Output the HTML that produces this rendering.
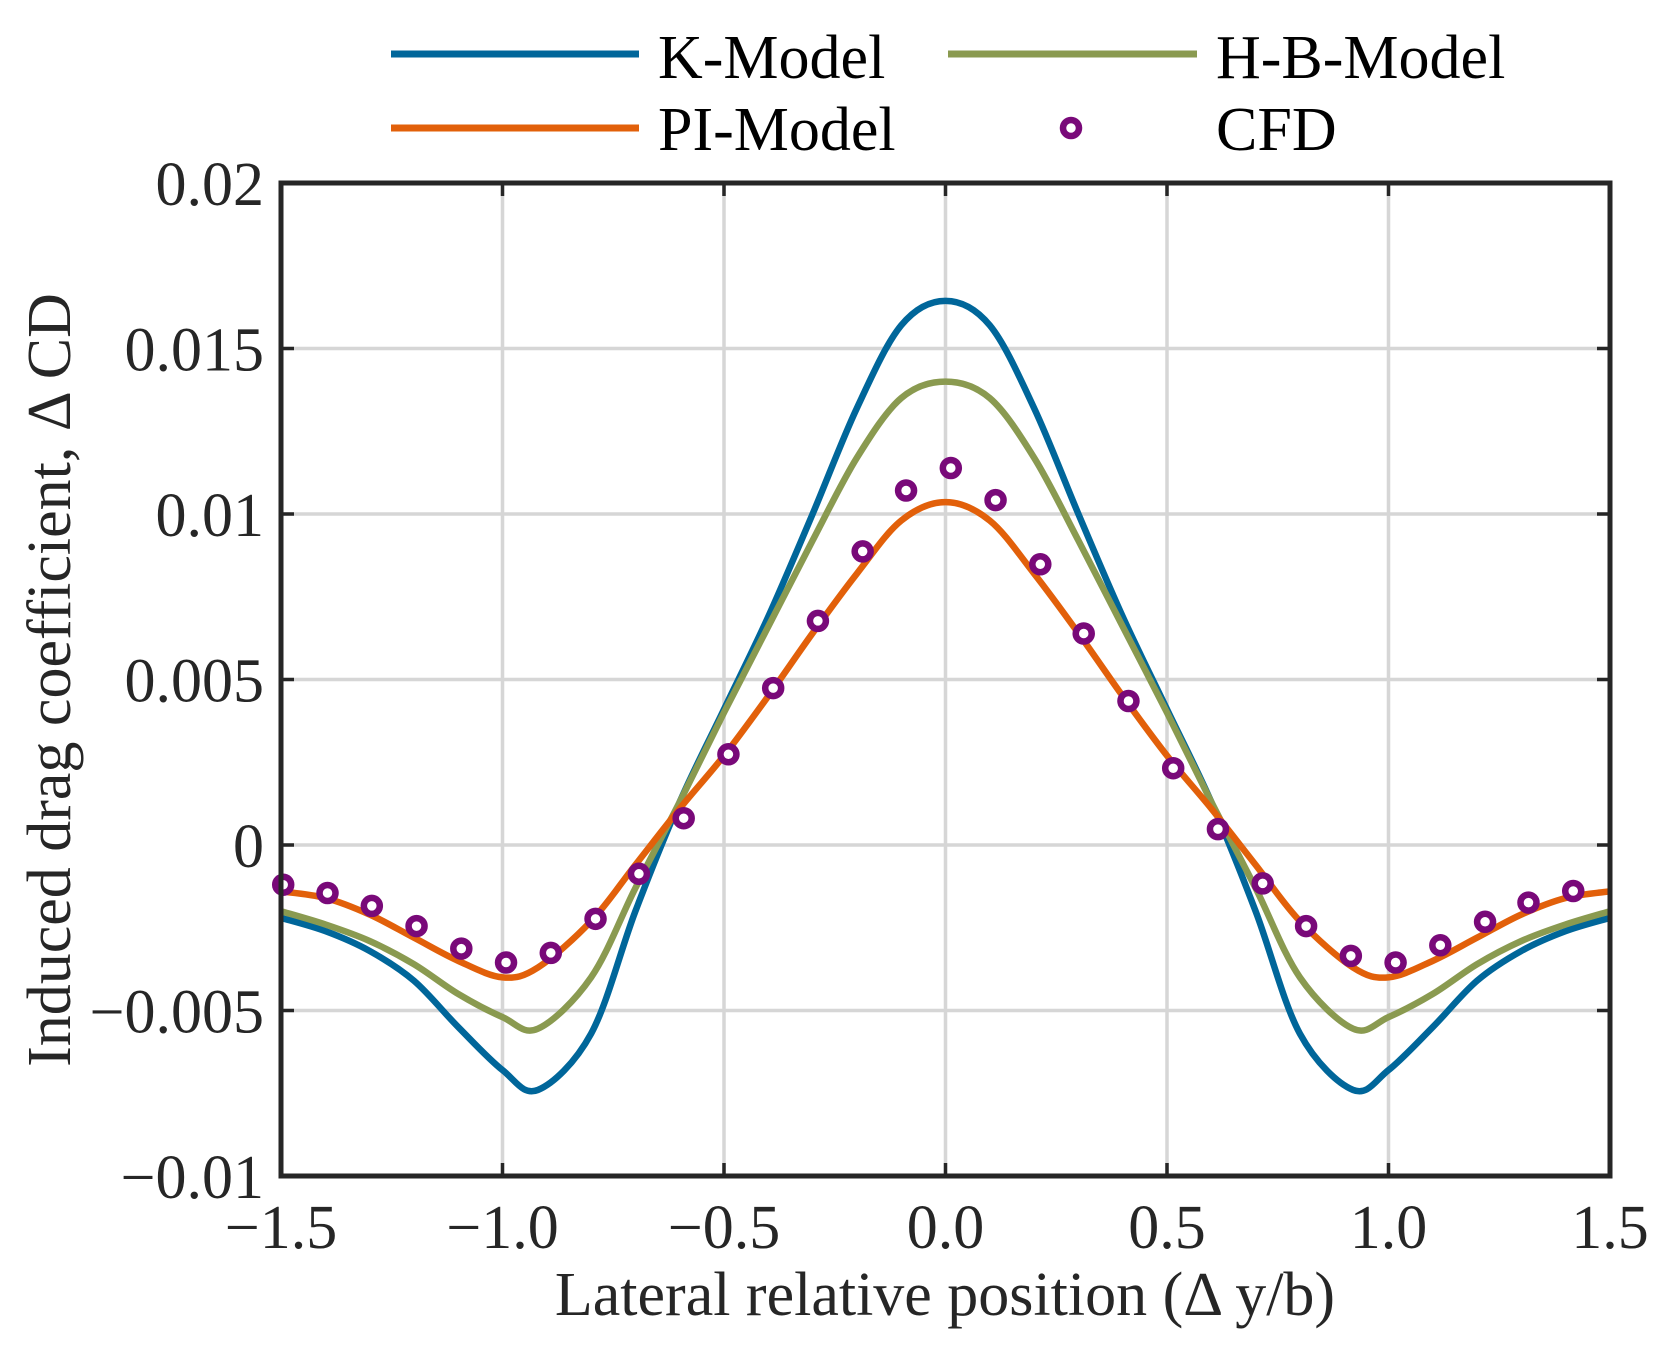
<!DOCTYPE html>
<html><head><meta charset="utf-8"><style>
html,body{margin:0;padding:0;background:#fff;}
svg{display:block;font-family:"Liberation Serif",serif;}
</style></head><body>
<svg id="chart" width="1670" height="1357" viewBox="0 0 1670 1357">
<g id="grid"></g>
<g id="series"></g>
<g id="frame"></g>
<g id="labels"></g>
<text x="945" y="1315" text-anchor="middle" font-size="62" fill="#262626">Lateral relative position (Δ y/b)</text>
<text transform="translate(70,680) rotate(-90)" text-anchor="middle" font-size="62" fill="#262626">Induced drag coefficient, Δ CD</text>
<g id="legend">
 <line x1="391" y1="54" x2="639" y2="54" stroke="#00669A" stroke-width="7"/>
 <text x="658" y="78" font-size="62" fill="#000">K-Model</text>
 <line x1="948" y1="54" x2="1197" y2="54" stroke="#8A9A50" stroke-width="7"/>
 <text x="1216" y="78" font-size="62" fill="#000">H-B-Model</text>
 <line x1="391" y1="128" x2="639" y2="128" stroke="#E2600A" stroke-width="7"/>
 <text x="658" y="150" font-size="62" fill="#000">PI-Model</text>
 <circle cx="1071" cy="128" r="8" fill="#fff" stroke="#790979" stroke-width="6.5"/>
 <text x="1216" y="150" font-size="62" fill="#000">CFD</text>
</g>
</svg>
<script>
const xTicks=[-1.5,-1,-0.5,0,0.5,1,1.5];
const xTickLabels=["\u22121.5","\u22121.0","\u22120.5","0.0","0.5","1.0","1.5"];
const yTicks=[-0.01,-0.005,0,0.005,0.01,0.015,0.02];
const yTickLabels=["\u22120.01","\u22120.005","0","0.005","0.01","0.015","0.02"];
const curveX=[-1.5,-1.4,-1.3,-1.2,-1.1,-1.0,-0.92,-0.8,-0.7,-0.6,-0.5,-0.4,-0.3,-0.2,-0.1,0,0.1,0.2,0.3,0.4,0.5,0.6,0.7,0.8,0.92,1.0,1.1,1.2,1.3,1.4,1.5];
const kModel=[-0.0022,-0.0026,-0.0032,-0.0041,-0.0055,-0.0068,-0.0074,-0.0057,-0.0020,0.0013,0.0041,0.0069,0.0100,0.0132,0.0157,0.01644,0.0157,0.0132,0.0100,0.0069,0.0041,0.0013,-0.0020,-0.0057,-0.0074,-0.0068,-0.0055,-0.0041,-0.0032,-0.0026,-0.0022];
const hbModel=[-0.0020,-0.0024,-0.0029,-0.0036,-0.0045,-0.0052,-0.00555,-0.0040,-0.0013,0.0013,0.0040,0.0066,0.0092,0.0117,0.0135,0.0140,0.0135,0.0117,0.0092,0.0066,0.0040,0.0013,-0.0013,-0.0040,-0.00555,-0.0052,-0.0045,-0.0036,-0.0029,-0.0024,-0.0020];
const piModel=[-0.0014,-0.0016,-0.0021,-0.0028,-0.0035,-0.0040,-0.0037,-0.0023,-0.0006,0.0011,0.0027,0.0045,0.0064,0.0082,0.0098,0.01036,0.0098,0.0082,0.0064,0.0045,0.0027,0.0011,-0.0006,-0.0023,-0.0037,-0.0040,-0.0035,-0.0028,-0.0021,-0.0016,-0.0014];
const cfdX=[-1.495,-1.395,-1.295,-1.194,-1.093,-0.992,-0.891,-0.79,-0.692,-0.591,-0.49,-0.389,-0.288,-0.187,-0.089,0.012,0.113,0.214,0.312,0.413,0.514,0.615,0.716,0.814,0.915,1.016,1.117,1.218,1.316,1.417];
const cfdY=[-0.0012,-0.00145,-0.00184,-0.00245,-0.00313,-0.00355,-0.00326,-0.00223,-0.00087,0.00081,0.00274,0.00474,0.00677,0.00887,0.01071,0.01139,0.01042,0.00848,0.00639,0.00435,0.00232,0.00048,-0.00116,-0.00245,-0.00335,-0.00355,-0.00303,-0.00232,-0.00174,-0.00139];

const NS="http://www.w3.org/2000/svg";
const L=281,R=1610,T=183,B=1176;
function sx(v){return L+(v+1.5)/3*(R-L);}
function sy(v){return B-(v+0.01)/0.03*(B-T);}
function mk(tag,attrs,parent){const e=document.createElementNS(NS,tag);for(const k in attrs)e.setAttribute(k,attrs[k]);parent.appendChild(e);return e;}
const grid=document.getElementById('grid'),frame=document.getElementById('frame'),labels=document.getElementById('labels'),series=document.getElementById('series');
xTicks.forEach((t,i)=>{
 const x=sx(t);
 if(i>0&&i<xTicks.length-1){
  const g=mk('line',{x1:x,y1:T,x2:x,y2:B,stroke:'#d6d6d6','stroke-width':3.5},grid);
  
  
  const a=mk('line',{x1:x,y1:B,x2:x,y2:B-13,stroke:'#262626','stroke-width':3.5},frame);
  
  
  const b=mk('line',{x1:x,y1:T,x2:x,y2:T+13,stroke:'#262626','stroke-width':3.5},frame);
  
  
 }
 const tx=mk('text',{x:x,y:1248,'text-anchor':'middle','font-size':62,fill:'#262626'},labels);
 tx.textContent=xTickLabels[i];
 
 
});
yTicks.forEach((t,i)=>{
 const y=sy(t);
 if(i>0&&i<yTicks.length-1){
  const g=mk('line',{x1:L,y1:y,x2:R,y2:y,stroke:'#d6d6d6','stroke-width':3.5},grid);
  
  
  const a=mk('line',{x1:L,y1:y,x2:L+13,y2:y,stroke:'#262626','stroke-width':3.5},frame);
  
  
  const b=mk('line',{x1:R,y1:y,x2:R-13,y2:y,stroke:'#262626','stroke-width':3.5},frame);
  
  
 }
 const tx=mk('text',{x:264,y:y+22,'text-anchor':'end','font-size':62,fill:'#262626'},labels);
 tx.textContent=yTickLabels[i];
 
 
});
const fr=mk('rect',{x:L,y:T,width:R-L,height:B-T,fill:'none',stroke:'#262626','stroke-width':5},frame);


function smooth(xs,ys){
 const p=xs.map((x,i)=>[sx(x),sy(ys[i])]);
 let d='M'+p[0][0]+','+p[0][1];
 for(let i=0;i<p.length-1;i++){
  const p0=p[Math.max(0,i-1)],p1=p[i],p2=p[i+1],p3=p[Math.min(p.length-1,i+2)];
  const c1=[p1[0]+(p2[0]-p0[0])/6,p1[1]+(p2[1]-p0[1])/6];
  const c2=[p2[0]-(p3[0]-p1[0])/6,p2[1]-(p3[1]-p1[1])/6];
  d+=' C'+c1[0]+','+c1[1]+' '+c2[0]+','+c2[1]+' '+p2[0]+','+p2[1];
 }
 return d;
}
const clip=mk('clipPath',{id:'pc'},series);
mk('rect',{x:L,y:T,width:R-L,height:B-T},clip);
const k=mk('path',{d:smooth(curveX,kModel),fill:'none',stroke:'#00669A','stroke-width':6.5,'clip-path':'url(#pc)'},series);


const hb=mk('path',{d:smooth(curveX,hbModel),fill:'none',stroke:'#8A9A50','stroke-width':6.5,'clip-path':'url(#pc)'},series);


const pi=mk('path',{d:smooth(curveX,piModel),fill:'none',stroke:'#E2600A','stroke-width':6.5,'clip-path':'url(#pc)'},series);


cfdX.forEach((x,i)=>{
 const c=mk('circle',{cx:sx(x),cy:sy(cfdY[i]),r:8,fill:'#fff',stroke:'#790979','stroke-width':6.5},series);
 
 
});
</script>
</body></html>
